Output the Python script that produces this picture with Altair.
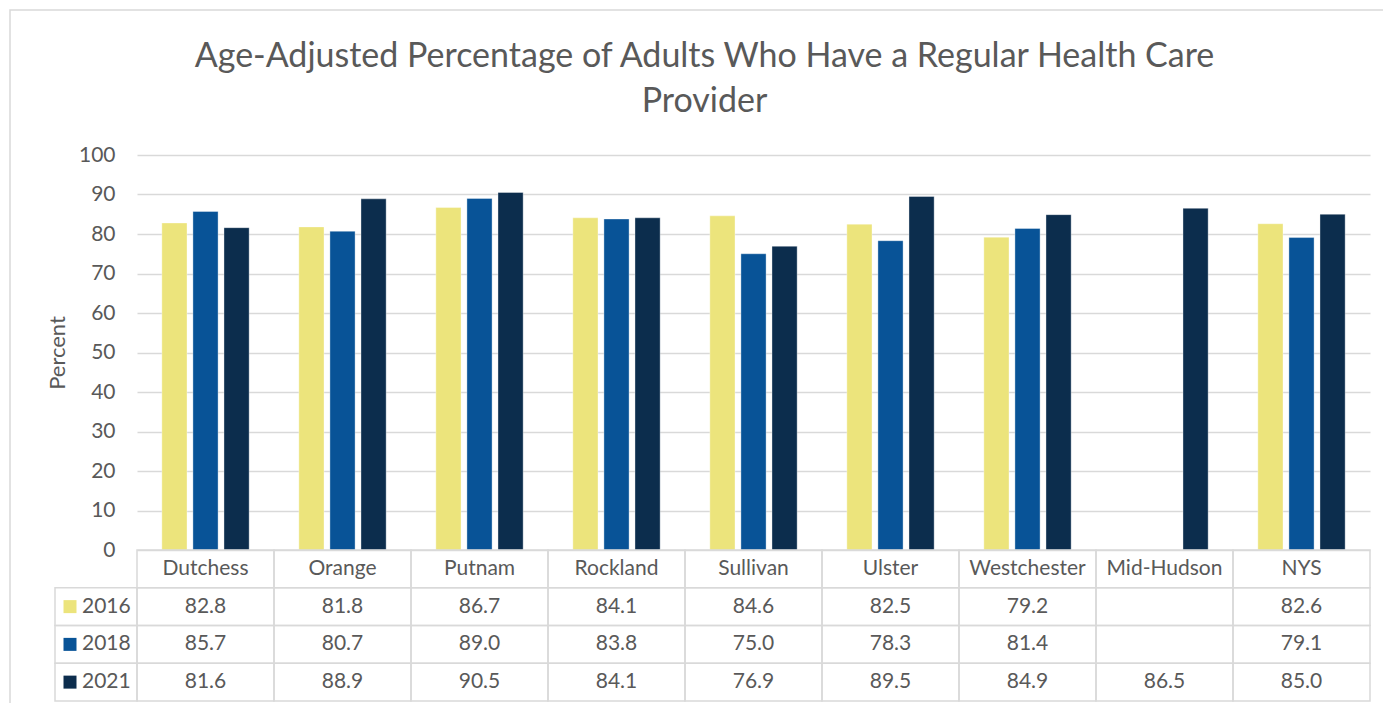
import altair as alt
import pandas as pd

counties = ["Dutchess", "Orange", "Putnam", "Rockland", "Sullivan", "Ulster",
            "Westchester", "Mid-Hudson", "NYS"]
years = ["2016", "2018", "2021"]
v2016 = [82.8, 81.8, 86.7, 84.1, 84.6, 82.5, 79.2, None, 82.6]
v2018 = [85.7, 80.7, 89.0, 83.8, 75.0, 78.3, 81.4, None, 79.1]
v2021 = [81.6, 88.9, 90.5, 84.1, 76.9, 89.5, 84.9, 86.5, 85.0]
colors = ["#ECE47C", "#085397", "#0C2D4D"]

series = {"2016": v2016, "2018": v2018, "2021": v2021}
rows = []
for y in years:
    for c, v in zip(counties, series[y]):
        rows.append({"county": c, "year": y, "value": v})
df = pd.DataFrame(rows)
bars_df = df.dropna()
text_df = df.dropna().copy()
text_df["label"] = text_df["value"].map(lambda v: f"{v:.1f}")

row_order = ["header"] + years
cells = pd.DataFrame([{"county": c, "row": r} for r in row_order for c in counties])
header_df = pd.DataFrame({"county": counties, "row": ["header"] * len(counties)})
rowlab_df = pd.DataFrame({"row": years, "year": years})

FONT = "Lato"
GREY = "#595959"
LINE = "#d9d9d9"
PLOT_H = 395
TABLE_H = 151
FS = 21

xscale = alt.Scale(domain=counties, paddingInner=0, paddingOuter=0)
yscale_tab = alt.Scale(type="band", domain=row_order, range=[PLOT_H, PLOT_H + TABLE_H],
                       paddingInner=0, paddingOuter=0)
color_scale = alt.Scale(domain=years, range=colors)

border = alt.Chart(pd.DataFrame({"k": [0]})).mark_rect(
    fillOpacity=0, stroke=LINE, strokeWidth=1.5
).encode(x=alt.value(-127), x2=alt.value(1253), y=alt.value(-145), y2=alt.value(560))

bars = alt.Chart(bars_df).mark_bar(stroke="white", strokeWidth=0.6, strokeOpacity=0.6).encode(
    x=alt.X("county:N", scale=xscale, axis=None, sort=counties),
    xOffset=alt.XOffset("year:N", scale=alt.Scale(domain=years, paddingInner=0.19, paddingOuter=0.8)),
    y=alt.Y("value:Q", scale=alt.Scale(domain=[0, 100], range=[PLOT_H, 0], nice=False),
            axis=alt.Axis(values=list(range(0, 101, 10)), title="Percent", grid=True,
                          gridColor=LINE, gridWidth=1.5, domain=False, ticks=False,
                          labelFontSize=FS, labelColor=GREY, labelFont=FONT, labelPadding=22,
                          titleFont=FONT, titleFontSize=22, titleFontWeight="normal",
                          titleColor=GREY, titlePadding=9)),
    color=alt.Color("year:N", scale=color_scale, legend=None),
)

cell_rects = alt.Chart(cells).mark_rect(fillOpacity=0, stroke=LINE, strokeWidth=1.5).encode(
    x=alt.X("county:N", scale=xscale, axis=None, sort=counties),
    y=alt.Y("row:N", scale=yscale_tab, axis=None),
)

left_rects = alt.Chart(rowlab_df).mark_rect(fillOpacity=0, stroke=LINE, strokeWidth=1.5).encode(
    x=alt.value(-82), x2=alt.value(0),
    y=alt.Y("row:N", scale=yscale_tab, axis=None),
)

header_text = alt.Chart(header_df).mark_text(font=FONT, fontSize=FS, color=GREY).encode(
    x=alt.X("county:N", scale=xscale, axis=None, sort=counties),
    y=alt.Y("row:N", scale=yscale_tab, axis=None),
    text="county:N",
)

value_text = alt.Chart(text_df).mark_text(font=FONT, fontSize=FS, color=GREY).encode(
    x=alt.X("county:N", scale=xscale, axis=None, sort=counties),
    y=alt.Y("year:N", scale=yscale_tab, axis=None),
    text="label:N",
)

row_squares = alt.Chart(rowlab_df).mark_square(size=169, opacity=1).encode(
    x=alt.value(-67),
    y=alt.Y("row:N", scale=yscale_tab, axis=None),
    color=alt.Color("year:N", scale=color_scale, legend=None),
)

row_text = alt.Chart(rowlab_df).mark_text(font=FONT, fontSize=FS, color=GREY, align="left").encode(
    x=alt.value(-55),
    y=alt.Y("row:N", scale=yscale_tab, axis=None),
    text="year:N",
)

chart = alt.layer(
    border, bars, cell_rects, left_rects, header_text, value_text, row_squares, row_text
).resolve_scale(y="independent").properties(
    width=1233,
    height=PLOT_H + TABLE_H,
    title=alt.Title(
        ["Age-Adjusted Percentage of Adults Who Have a Regular Health Care", "Provider"],
        font=FONT, fontSize=34, fontWeight="normal", color=GREY, anchor="middle",
        dx=-49, offset=-110, lineHeight=45,
    ),
    autosize=alt.AutoSizeParams(type="none"),
    padding={"left": 129, "top": 147, "right": 13, "bottom": 2},
).configure_view(stroke="transparent")

chart.save("out.html", embed_options={"renderer": "svg", "actions": False})
